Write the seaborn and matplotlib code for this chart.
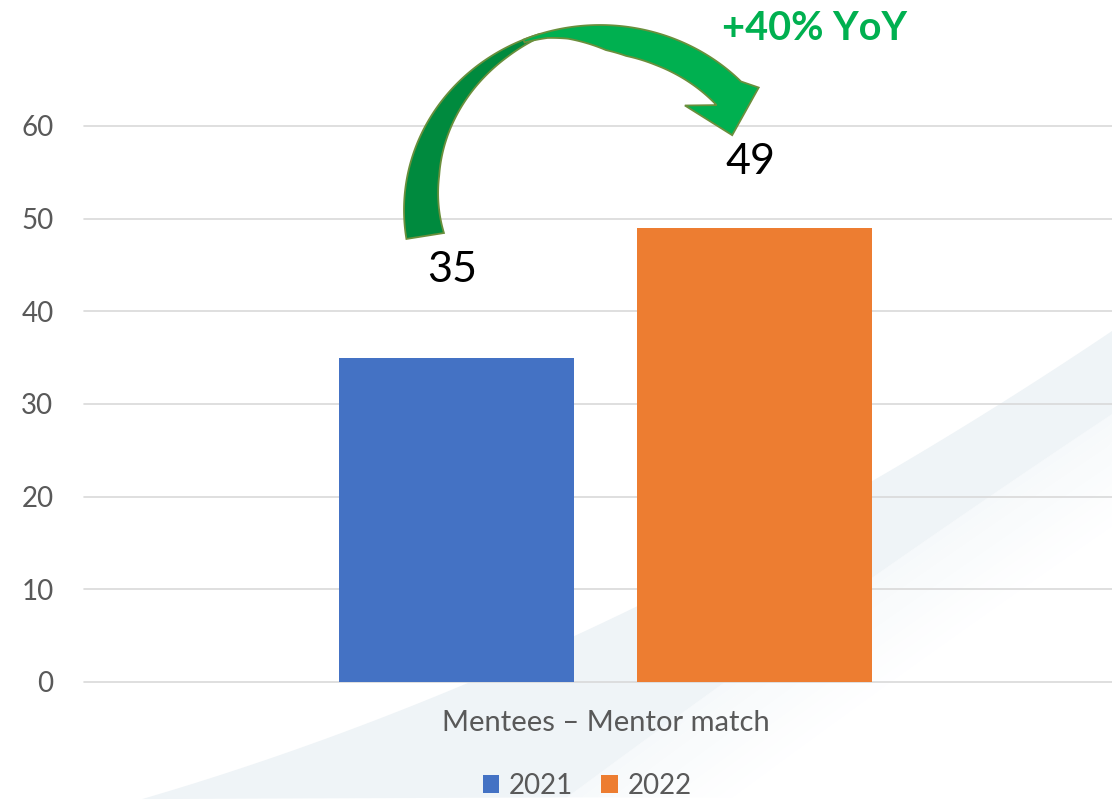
import numpy as np
import pandas as pd
import matplotlib
matplotlib.use("Agg")
import matplotlib.pyplot as plt
from matplotlib.patches import Polygon
import seaborn as sns

# ---- data ----
categories = ["Mentees – Mentor match"]
years = ["2021", "2022"]
values = [35, 49]
y_ticks = [0, 10, 20, 30, 40, 50, 60]
yoy_text = "+40% YoY"
colors = ["#4472C4", "#ED7D31"]

sns.set_theme(style="white")
plt.rcParams["font.family"] = ["Lato", "DejaVu Sans"]

W, H = 1112, 800
fig = plt.figure(figsize=(W / 100, H / 100), dpi=100)
fig.patch.set_facecolor("white")


def px(x, y):
    return (x / W, 1 - y / H)


# ---- decorative background swoosh ----
outer_pts = np.array([(142, 800), (461, 683), (638, 607), (872, 483), (1112, 330)])
inner_pts = np.array([(567, 800), (709, 687), (872, 583), (1112, 413)])
co = np.polyfit(outer_pts[:, 0], outer_pts[:, 1], 2)
ci = np.polyfit(inner_pts[:, 0], inner_pts[:, 1], 2)
xo = np.linspace(142, 1112, 80)
yo = np.polyval(co, xo)
xi = np.linspace(567, 1112, 80)
yi = np.polyval(ci, xi)
band = [px(x, y) for x, y in zip(xo, yo)] + [px(x, y) for x, y in zip(xi[::-1], yi[::-1])]
fig.add_artist(Polygon(band, closed=True, transform=fig.transFigure,
                       facecolor="#EFF4F7", edgecolor="none", zorder=-2))
# soft fade right of the band
fades = np.linspace(0, 1, 12)
for k in range(len(fades) - 1):
    s0, s1 = 15 * k, 15 * (k + 1)
    shade = 0.55 * (1 - fades[k])
    col = (1 - shade * (1 - 0xEF / 255), 1 - shade * (1 - 0xF4 / 255), 1 - shade * (1 - 0xF7 / 255))
    xa = np.clip(xi + s0, None, W)
    xb = np.clip(xi + s1, None, W)
    poly = [px(x, y) for x, y in zip(xa, yi)] + [px(x, y) for x, y in zip(xb[::-1], yi[::-1])]
    fig.add_artist(Polygon(poly, closed=True, transform=fig.transFigure,
                           facecolor=col, edgecolor="none", zorder=-3))

# ---- axes ----
ppu = (682 - 126) / 60.0
ax = fig.add_axes([84 / W, 118 / H, (W - 84) / W, (H - 118) / H])
ax.set_facecolor("none")

df = pd.DataFrame({
    "category": categories * len(years),
    "year": years,
    "value": values,
})
sns.barplot(data=df, x="category", y="value", hue="year", palette=colors,
            width=0.8, gap=0.21, saturation=1, linewidth=0, ax=ax, legend=True)

ax.set_xlim(-0.700, 0.680)
ax.set_ylim(0, 60 + 126 / ppu)
ax.set_yticks(y_ticks)
ax.yaxis.grid(True, color="#D9D9D9", lw=1.2)
ax.xaxis.grid(False)
ax.set_axisbelow(True)
for gl in ax.get_ygridlines():
    gl.set_clip_on(False)
for s in ax.spines.values():
    s.set_visible(False)
ax.tick_params(axis="y", length=0, pad=22, labelsize=20, labelcolor="#595959")
ax.tick_params(axis="x", length=0, pad=20, labelsize=21, labelcolor="#595959")
ax.set_xlabel("")
ax.set_ylabel("")

# value labels
label_offsets = [9.5, 7.1]
for cont, off in zip(ax.containers, label_offsets):
    bar = cont[0]
    xc = bar.get_x() + bar.get_width() / 2 - 0.006
    h = bar.get_height()
    ax.text(xc, h + off, f"{h:.0f}", ha="center", va="center",
            fontsize=31, color="black")

# legend
handles, labels = ax.get_legend_handles_labels()
if ax.legend_ is not None:
    ax.legend_.remove()
fig.legend(handles, labels, loc="center", bbox_to_anchor=(587 / W, 1 - 786 / H),
           ncol=2, frameon=False, fontsize=20, labelcolor="#595959",
           handlelength=0.6, handleheight=0.6, handletextpad=0.35,
           columnspacing=1.0)

# ---- curved growth arrow ----
cx, cy, a, b = 600, 210, 196, 185


def ribbon(t0, t1, kt, kw, n=120):
    t = np.linspace(t0, t1, n)
    w = np.interp(t, kt, kw)
    tr = np.radians(t)
    ox = cx + a * np.cos(tr)
    oy = cy - b * np.sin(tr)
    ix = cx + (a - w) * np.cos(tr)
    iy = cy - (b - w) * np.sin(tr)
    return ox, oy, ix, iy


edge = "#6A8F3C"
# back (dark) part
ox, oy, ix, iy = ribbon(189, 108, [108, 120, 133, 150, 167, 189], [3, 9, 15, 23, 31, 38])
dark = [px(x, y) for x, y in zip(ox, oy)] + [px(x, y) for x, y in zip(ix[::-1], iy[::-1])]
fig.add_artist(Polygon(dark, closed=True, transform=fig.transFigure,
                       facecolor="#008A3E", edgecolor=edge, lw=1.3, zorder=5))

# front (bright) part with head
t_end = 44
ox, oy, ix, iy = ribbon(113, t_end, [44, 70, 81, 88, 94, 100, 106, 113],
                        [34, 31, 29, 25, 18, 11, 6, 3])
O = np.array([ox[-1], oy[-1]])
I = np.array([ix[-1], iy[-1]])
mid = (O + I) / 2
te = np.radians(t_end)
d = np.array([a * np.sin(te), b * np.cos(te)])
d = d / np.linalg.norm(d)
rot = np.radians(32)
d = np.array([d[0] * np.cos(rot) - d[1] * np.sin(rot), d[0] * np.sin(rot) + d[1] * np.cos(rot)])
perp = np.array([d[1], -d[0]])
mid = mid - np.array([6, -3])
barb_out = mid + 37 * perp
barb_in = mid - 39 * perp
tip = mid + 40 * d
front = ([px(x, y) for x, y in zip(ox, oy)] + [px(*barb_out), px(*tip), px(*barb_in)]
         + [px(x, y) for x, y in zip(ix[::-1], iy[::-1])])
fig.add_artist(Polygon(front, closed=True, transform=fig.transFigure,
                       facecolor="#00B050", edgecolor=edge, lw=1.3, zorder=6))

fig.text(815 / W, 1 - 28 / H, yoy_text, ha="center", va="center",
         fontsize=28.5, fontweight="bold", color="#00B050", zorder=7)

fig.savefig("out.png", dpi=100, facecolor="white")
